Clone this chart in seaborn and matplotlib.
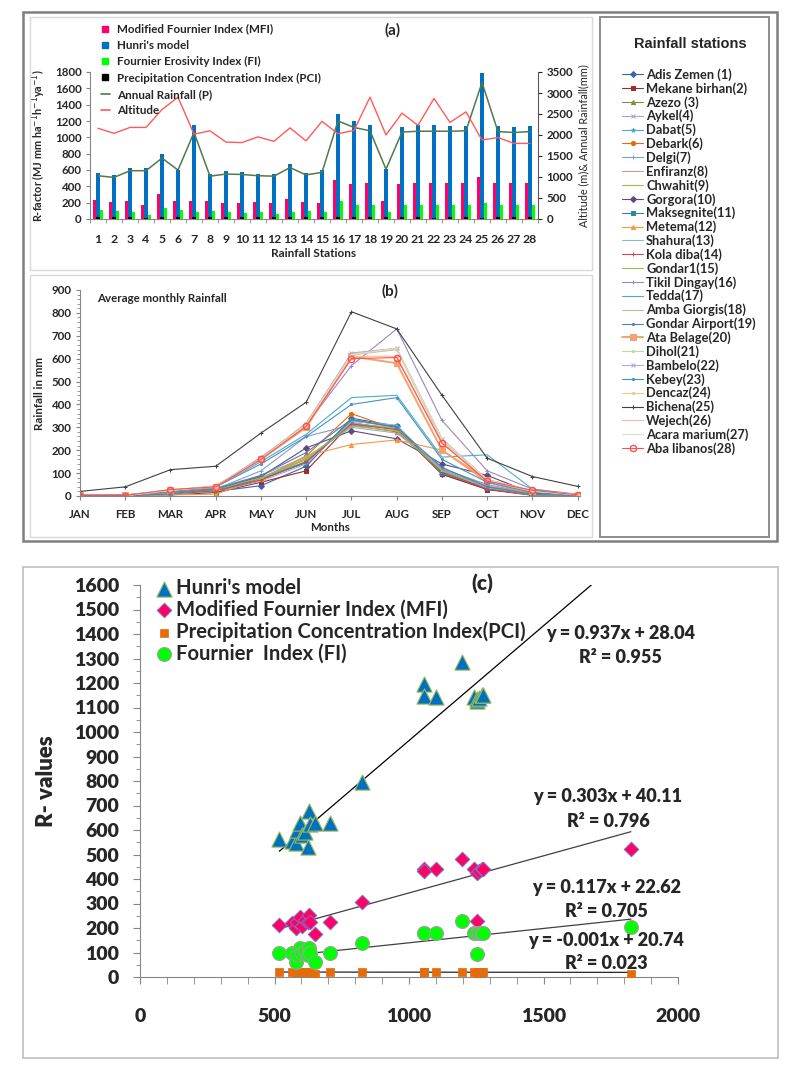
import numpy as np
import pandas as pd
import matplotlib
matplotlib.use("Agg")
import matplotlib.pyplot as plt
from matplotlib.patches import Rectangle
from matplotlib.lines import Line2D
from matplotlib.ticker import MultipleLocator
import seaborn as sns

# ── panel (a): R-factor per station ───────────────────────
stations = [str(i) for i in range(1, 29)]
mfi = [235, 205, 220, 170, 300, 225, 220, 225, 200, 200, 210, 190, 245, 210,
       200, 475, 430, 435, 215, 427, 437, 437, 437, 437, 514, 437, 437, 437]
hunri = [565, 535, 620, 625, 795, 605, 1145, 550, 585, 580, 555, 545, 675, 560,
         605, 1285, 1195, 1145, 615, 1131, 1147, 1147, 1137, 1137, 1790, 1142, 1126, 1137]
fi = [110, 95, 90, 55, 135, 110, 85, 100, 80, 75, 85, 60, 85, 95,
      85, 220, 170, 175, 90, 175, 175, 170, 175, 170, 195, 175, 175, 175]
pci = [20, 19, 20, 13, 20, 20, 21, 20, 19, 19, 20, 19, 20, 19,
       20, 20, 19, 20, 19, 20, 20, 10, 20, 20, 12, 20, 19, 20]
annual_rain = [1030, 990, 1150, 1150, 1450, 1165, 2060, 1020, 1070, 1060, 1030, 1020, 1225, 1050,
               1110, 2335, 2180, 2100, 1185, 2070, 2090, 2090, 2090, 2100, 3250, 2080, 2060, 2080]
altitude = [2160, 2040, 2180, 2180, 2605, 2900, 2020, 2100, 1830, 1820, 1955, 1850, 2170, 1860,
            2325, 2030, 2110, 2900, 2000, 2520, 2230, 2870, 2300, 2550, 1880, 1940, 1800, 1800]

# ── panel (b): average monthly rainfall ───────────────────
months = ["JAN", "FEB", "MAR", "APR", "MAY", "JUN", "JUL", "AUG", "SEP", "OCT", "NOV", "DEC"]
station_names = ["Adis Zemen (1)", "Mekane birhan(2)", "Azezo (3)", "Aykel(4)", "Dabat(5)",
                 "Debark(6)", "Delgi(7)", "Enfiranz(8)", "Chwahit(9)", "Gorgora(10)",
                 "Maksegnite(11)", "Metema(12)", "Shahura(13)", "Kola diba(14)", "Gondar1(15)",
                 "Tikil Dingay(16)", "Tedda(17)", "Amba Giorgis(18)", "Gondar Airport(19)",
                 "Ata Belage(20)", "Dihol(21)", "Bambelo(22)", "Kebey(23)", "Dencaz(24)",
                 "Bichena(25)", "Wejech(26)", "Acara marium(27)", "Aba libanos(28)"]
rain_01 = [0, 0, 8, 20, 45, 130, 340, 305, 95, 30, 5, 0]
rain_02 = [0, 0, 5, 15, 60, 110, 320, 290, 95, 28, 3, 0]
rain_03 = [1, 2, 12, 30, 80, 160, 310, 280, 110, 40, 8, 1]
rain_04 = [2, 3, 15, 35, 90, 170, 300, 275, 120, 45, 10, 2]
rain_05 = [2, 3, 18, 35, 80, 150, 330, 300, 115, 40, 8, 2]
rain_06 = [1, 2, 15, 30, 75, 175, 360, 290, 105, 35, 8, 1]
rain_07 = [1, 2, 10, 30, 110, 260, 310, 295, 120, 50, 10, 2]
rain_08 = [0, 0, 8, 25, 70, 150, 320, 290, 110, 40, 5, 0]
rain_09 = [0, 0, 10, 25, 80, 160, 315, 300, 100, 35, 5, 0]
rain_10 = [1, 2, 12, 30, 85, 210, 285, 250, 140, 90, 12, 2]
rain_11 = [0, 1, 10, 25, 75, 145, 330, 305, 100, 35, 5, 0]
rain_12 = [0, 0, 5, 8, 75, 175, 225, 245, 200, 60, 8, 1]
rain_13 = [0, 0, 8, 20, 65, 140, 325, 310, 110, 35, 5, 0]
rain_14 = [0, 1, 10, 22, 70, 150, 315, 290, 105, 30, 5, 0]
rain_15 = [0, 0, 12, 28, 80, 165, 305, 285, 110, 40, 6, 0]
rain_16 = [3, 5, 20, 40, 170, 310, 570, 730, 330, 110, 30, 8]
rain_17 = [5, 5, 20, 40, 150, 270, 430, 440, 170, 180, 30, 5]
rain_18 = [2, 3, 25, 45, 165, 320, 620, 645, 250, 70, 20, 5]
rain_19 = [0, 0, 10, 30, 90, 190, 335, 300, 125, 40, 8, 1]
rain_20 = [3, 3, 25, 40, 160, 300, 610, 580, 200, 70, 20, 5]
rain_21 = [2, 2, 22, 40, 160, 310, 620, 640, 240, 70, 20, 5]
rain_22 = [2, 2, 25, 42, 165, 315, 625, 645, 250, 72, 22, 5]
rain_23 = [3, 4, 20, 40, 140, 260, 400, 430, 160, 60, 15, 3]
rain_24 = [2, 2, 25, 40, 160, 305, 610, 610, 235, 68, 22, 5]
rain_25 = [20, 40, 115, 130, 275, 410, 805, 730, 440, 165, 85, 42]
rain_26 = [2, 2, 25, 42, 165, 315, 615, 640, 245, 70, 22, 5]
rain_27 = [2, 2, 25, 42, 162, 312, 618, 645, 248, 70, 22, 5]
rain_28 = [2, 2, 28, 40, 160, 305, 600, 605, 230, 65, 25, 5]
monthly = [rain_01, rain_02, rain_03, rain_04, rain_05, rain_06, rain_07, rain_08, rain_09,
           rain_10, rain_11, rain_12, rain_13, rain_14, rain_15, rain_16, rain_17, rain_18,
           rain_19, rain_20, rain_21, rain_22, rain_23, rain_24, rain_25, rain_26, rain_27, rain_28]

# ── panel (c): R-values vs annual rainfall ────────────────
rain_c = [518, 565, 580, 583, 595, 601, 614, 624, 630, 632, 652, 707, 827, 1056,
          1056, 1100, 1197, 1243, 1253, 1253, 1259, 1271, 1275, 1825]
hunri_c = [565, 555, 548, 600, 627, 580, 590, 532, 679, 624, 630, 627, 797, 1196,
           1148, 1144, 1287, 1144, 1128, 1135, 1140, 1151, 1150, 1790]
mfi_c = [212, 219, 199, 226, 244, 208, 233, 226, 253, 226, 176, 226, 306, 440,
         432, 441, 483, 440, 423, 227, 434, 442, 442, 521]
pci_c = [20, 20, 20, 20, 20, 20, 20, 19, 20, 20, 13, 20, 20, 20,
         20, 20, 20, 20, 10, 20, 20, 20, 20, 12]
fi_c = [99, 97, 63, 90, 117, 97, 105, 90, 120, 97, 61, 97, 140, 178,
        178, 181, 229, 181, 181, 93, 178, 178, 178, 203]
trend_names = ["Hunri's model", "Modified Fournier Index (MFI)",
               "Precipitation Concentration Index(PCI)", "Fournier  Index (FI)"]
slopes = [0.937, 0.303, -0.001, 0.117]
intercepts = [28.04, 40.11, 20.74, 22.62]
r_squared = [0.955, 0.796, 0.023, 0.705]

W, H = 799, 1080


def box(l, t, r, b):
    """pixel box (from top-left) -> figure fraction rect"""
    return [l / W, 1 - b / H, (r - l) / W, (b - t) / H]


def frame(fig, l, t, r, b, color, lw):
    fig.patches.append(Rectangle((l / W, 1 - b / H), (r - l) / W, (b - t) / H,
                                 transform=fig.transFigure, fill=False,
                                 edgecolor=color, linewidth=lw))


sns.set_style("white")
plt.rcParams["font.family"] = ["Lato", "DejaVu Sans"]
plt.rcParams["axes.unicode_minus"] = False

fig = plt.figure(figsize=(W / 100, H / 100), dpi=100)

# frames
frame(fig, 23, 12, 777, 541, "#7F7F7F", 1.8)
frame(fig, 30, 17, 592, 270, "#D9D9D9", 1.0)
frame(fig, 30, 275, 592, 537, "#D9D9D9", 1.0)
frame(fig, 600, 17, 769, 537, "#8C8C8C", 1.4)
frame(fig, 23, 567, 778, 1058, "#BFBFBF", 1.2)

spine_grey = "#868686"

# ── (a) bars + lines ──────────────────────────────────────
ax_a = fig.add_axes(box(90, 72, 538, 219))
bar_names = ["Modified Fournier Index (MFI)", "Hunri's model", "Fournier Erosivity Index (FI)"]
bar_colors = ["#FF0066", "#0070C0", "#00FF00"]
df_a = pd.DataFrame({
    "station": stations * 3,
    "value": mfi + hunri + fi,
    "series": [bar_names[0]] * 28 + [bar_names[1]] * 28 + [bar_names[2]] * 28,
})
sns.barplot(data=df_a, x="station", y="value", hue="series", hue_order=bar_names,
            palette=bar_colors, width=0.68, errorbar=None, saturation=1,
            linewidth=0, legend=False, ax=ax_a)
sns.barplot(x=stations, y=pci, color="black", width=0.22, errorbar=None,
            saturation=1, linewidth=0, ax=ax_a)
ax_a.set_xlim(-0.5, 27.5)
ax_a.set_ylim(0, 1800)
ax_a.set_yticks(range(0, 1801, 200))
ax_a.set_xlabel("Rainfall Stations", fontsize=8.5, fontweight="bold", labelpad=2)
ax_a.set_ylabel("R-factor (MJ mm ha$^{-1}$h$^{-1}$ya$^{-1}$)", fontsize=7.8,
                fontweight="bold", labelpad=5)
ax_a.tick_params(axis="y", labelsize=8.3, length=3, color=spine_grey, left=True, pad=3)
ax_a.tick_params(axis="x", labelsize=8.8, length=0, pad=11)
ax_a.set_xticks(np.arange(-0.5, 28, 1), minor=True)
ax_a.tick_params(axis="x", which="minor", length=3, color=spine_grey, bottom=True)
for lab in ax_a.get_xticklabels() + ax_a.get_yticklabels():
    lab.set_fontweight("bold")
for side in ["top", "right"]:
    ax_a.spines[side].set_visible(False)
for side in ["left", "bottom"]:
    ax_a.spines[side].set_color(spine_grey)

ax_a2 = ax_a.twinx()
rain_color = "#4E7A4E"
alt_color = "#FF5A5A"
sns.lineplot(x=stations, y=annual_rain, color=rain_color, linewidth=1.1, sort=False, ax=ax_a2)
sns.lineplot(x=stations, y=altitude, color=alt_color, linewidth=1.0, sort=False, ax=ax_a2)
ax_a2.set_ylim(0, 3500)
ax_a2.set_yticks(range(0, 3501, 500))
ax_a2.set_ylabel("Altitude (m)& Annual Rainfall(mm)", fontsize=7.8, labelpad=4)
ax_a2.tick_params(axis="y", labelsize=8.3, length=3, right=True, pad=3)
for lab in ax_a2.get_yticklabels():
    lab.set_fontweight("bold")
for side in ["top", "left", "bottom"]:
    ax_a2.spines[side].set_visible(False)
ax_a2.spines["right"].set_color("#595959")

handles_a = [Line2D([], [], marker="s", ls="none", color=c, markersize=5) for c in bar_colors]
handles_a.append(Line2D([], [], marker="s", ls="none", color="black", markersize=5))
handles_a.append(Line2D([], [], color=rain_color, lw=1.2))
handles_a.append(Line2D([], [], color=alt_color, lw=1.2))
labels_a = bar_names + ["Precipitation Concentration Index (PCI)", "Annual Rainfall (P)", "Altitude"]
ax_a2.legend(handles_a, labels_a, loc="upper left", bbox_to_anchor=(96 / W, 1 - 19 / H),
             bbox_transform=fig.transFigure, frameon=False, handlelength=0.8,
             handletextpad=0.6, labelspacing=0.45, borderaxespad=0,
             prop={"size": 8.4, "weight": "bold"})
fig.text(393 / W, 1 - 30 / H, "(a)", fontsize=11, fontweight="bold", ha="center", va="center")

# ── (b) monthly rainfall ──────────────────────────────────
ax_b = fig.add_axes(box(80, 290, 580, 496))
st_colors = ["#3B64AD", "#9B2D2A", "#77933C", "#B3A2C7", "#4BACC6", "#E46C0A", "#7F9FCF",
             "#D99694", "#9BBB59", "#604A7B", "#31859C", "#F79646", "#95B3D7", "#C0504D",
             "#9BBB59", "#9A86C2", "#4BACC6", "#C4BD97", "#4F81BD", "#F2A470", "#C3D69B",
             "#B9A9D0", "#4A90C8", "#FAC090", "#404040", "#E6B9B8", "#D7E4BD", "#FF5050"]
st_markers = ["D", "s", "^", "x", "*", "o", "+", None, None, "D", "s", "^", None, "+",
              "_", "+", None, None, ".", "s", ".", "x", ".", ".", "+", None, None, "o"]
month_idx = np.arange(12)
for name, vals, col, mk in zip(station_names, monthly, st_colors, st_markers):
    kw = dict(color=col, linewidth=0.8, label=name, ax=ax_b)
    if mk is not None:
        kw.update(marker=mk, markersize=3, markeredgecolor=col)
    if name.startswith("Ata"):
        kw.update(linewidth=1.4, markersize=4)
    if name.startswith("Aba"):
        kw.update(markersize=4.5, markerfacecolor="none", markeredgewidth=1.0)
    sns.lineplot(x=month_idx, y=vals, **kw)
handles_b, labels_b = ax_b.get_legend_handles_labels()
ax_b.get_legend().remove()
ax_b.set_xlim(0, 11.05)
ax_b.set_ylim(0, 900)
ax_b.set_xticks(month_idx)
ax_b.set_xticklabels(months)
ax_b.set_yticks(range(0, 901, 100))
ax_b.yaxis.set_minor_locator(MultipleLocator(20))
ax_b.tick_params(axis="y", which="major", labelsize=8.3, length=3, color=spine_grey, left=True, pad=3)
ax_b.tick_params(axis="y", which="minor", length=2, color=spine_grey, left=True)
ax_b.tick_params(axis="x", labelsize=8.3, length=3, color=spine_grey, bottom=True, pad=6)
for lab in ax_b.get_xticklabels() + ax_b.get_yticklabels():
    lab.set_fontweight("bold")
ax_b.set_xlabel("Months", fontsize=8.3, fontweight="bold", labelpad=2)
ax_b.set_ylabel("Rainfall in mm", fontsize=8.3, fontweight="bold", labelpad=5)
for side in ["top", "right"]:
    ax_b.spines[side].set_visible(False)
for side in ["left", "bottom"]:
    ax_b.spines[side].set_color(spine_grey)
fig.text(97 / W, 1 - 298 / H, "Average monthly Rainfall", fontsize=8.3, fontweight="bold",
         ha="left", va="center")
fig.text(390 / W, 1 - 291 / H, "(b)", fontsize=11, fontweight="bold", ha="center", va="center")

leg_b = fig.legend(handles_b, labels_b, loc="upper left", bbox_to_anchor=(617 / W, 1 - 63 / H),
                   frameon=False, handlelength=1.6, handletextpad=0.25, labelspacing=0.09,
                   borderaxespad=0, prop={"size": 9.3, "weight": "bold"})
fig.text(690 / W, 1 - 44 / H, "Rainfall stations", fontsize=10.5, fontweight="bold",
         family="Liberation Sans", ha="center", va="center")

# ── (c) scatter with trend lines ──────────────────────────
ax_c = fig.add_axes(box(140, 585, 678, 977))
sns.scatterplot(x=rain_c, y=hunri_c, marker="^", s=120, color="#0070C0",
                edgecolor="#9BBB59", linewidth=0.8, label=trend_names[0], zorder=3, ax=ax_c)
sns.scatterplot(x=rain_c, y=mfi_c, marker="D", s=55, color="#FF0066",
                edgecolor="#7F6FBF", linewidth=0.7, label=trend_names[1], zorder=3, ax=ax_c)
sns.scatterplot(x=rain_c, y=pci_c, marker="s", s=32, color="#E46C0A",
                edgecolor="#E46C0A", linewidth=0.5, label=trend_names[2], zorder=3, ax=ax_c)
sns.scatterplot(x=rain_c, y=fi_c, marker="o", s=100, color="#00FF00",
                edgecolor="#A0A0A0", linewidth=0.8, label=trend_names[3], zorder=3, ax=ax_c)

xs = np.array([min(rain_c), max(rain_c)])
line_cols = ["black", "#404040", "#262626", "#404040"]
for k, a, b in zip(range(4), slopes, intercepts):
    ax_c.plot(xs, a * xs + b, color=line_cols[k], linewidth=0.9, zorder=2)

eq_pos = [(1786, 1404, 1306), (1740, 735, 633), (1734, 147, 57), (1734, 364, 269)]
for (ex, ey, ry), a, b, r2 in zip(eq_pos, slopes, intercepts, r_squared):
    ax_c.text(ex, ey, f"y = {a:.3f}x + {b:.2f}", fontsize=13, fontweight="heavy",
              ha="center", va="center", zorder=4)
    ax_c.text(ex, ry, f"R² = {r2:.3f}", fontsize=13, fontweight="heavy",
              ha="center", va="center", zorder=4)

ax_c.set_xlim(0, 2000)
ax_c.set_ylim(0, 1600)
ax_c.set_xticks(range(0, 2001, 500))
ax_c.xaxis.set_minor_locator(MultipleLocator(100))
ax_c.set_yticks(range(0, 1601, 100))
ax_c.yaxis.set_minor_locator(MultipleLocator(50))
ax_c.tick_params(axis="x", which="both", length=5, color=spine_grey, bottom=True,
                 labelsize=14, pad=17)
ax_c.tick_params(axis="y", which="major", length=5, color=spine_grey, left=True,
                 labelsize=14, pad=10)
ax_c.tick_params(axis="y", which="minor", length=3, color=spine_grey, left=True)
for lab in ax_c.get_xticklabels() + ax_c.get_yticklabels():
    lab.set_fontweight("heavy")
ax_c.set_ylabel("R- values", fontsize=16, fontweight="heavy", labelpad=12)
for side in ["top", "right"]:
    ax_c.spines[side].set_visible(False)
for side in ["left", "bottom"]:
    ax_c.spines[side].set_color(spine_grey)
ax_c.legend(loc="upper left", bbox_to_anchor=(146 / W, 1 - 570 / H),
            bbox_transform=fig.transFigure, frameon=False, handletextpad=0.1,
            handlelength=1.0, labelspacing=0.08, borderaxespad=0,
            prop={"size": 14.6, "weight": "bold"})
fig.text(482 / W, 1 - 584 / H, "(c)", fontsize=15, fontweight="heavy", ha="center", va="center")

fig.savefig("out.png", dpi=100)
plt.close(fig)
